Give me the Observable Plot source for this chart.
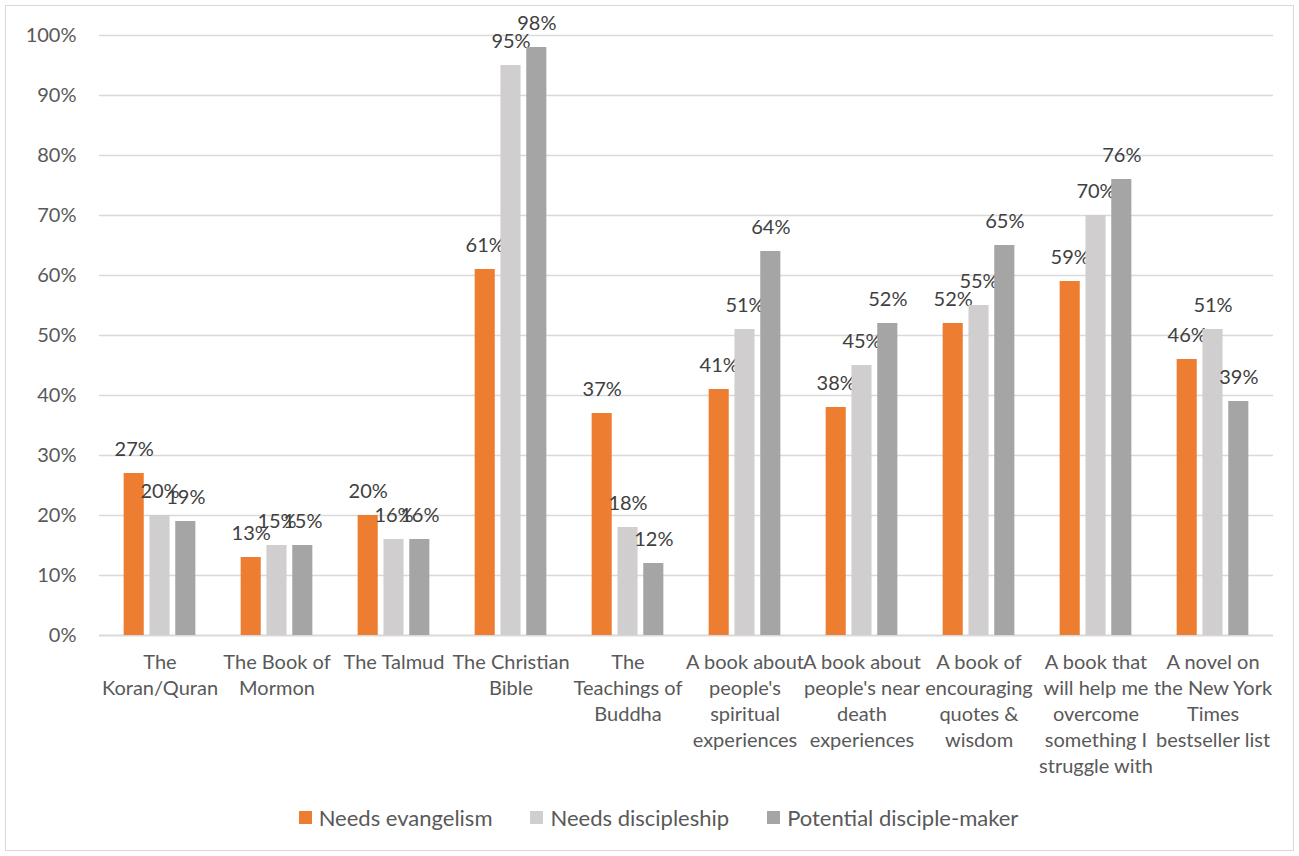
<!DOCTYPE html>
<html>
<head>
<meta charset="utf-8">
<script src="https://cdn.jsdelivr.net/npm/d3@7"></script>
<script src="https://cdn.jsdelivr.net/npm/@observablehq/plot@0.6"></script>
<style>
  html, body { margin: 0; padding: 0; background: #fff; }
  body { width: 1299px; height: 856px; position: relative; overflow: hidden; font-family: Lato, "Open Sans", sans-serif; }
  #frame { position: absolute; left: 5px; top: 5px; width: 1289px; height: 846px; border: 1.5px solid #d9d9d9; box-sizing: border-box; }
  #chart { position: absolute; left: 0; top: 0; }
  #legend { position: absolute; left: 9px; top: 804px; width: 1299px; display: flex; justify-content: center; font-size: 22px; color: #595959; }
  .item { display: flex; align-items: center; margin: 0 19px; }
  .swatch { width: 13px; height: 13px; margin-right: 7px; }
</style>
</head>
<body>
<div id="frame"></div>
<div id="chart"></div>
<div id="legend"></div>
<script>
// Reading materials and the share of each respondent group who would read them
const categories = [
  "The Koran/Quran",
  "The Book of Mormon",
  "The Talmud",
  "The Christian Bible",
  "The Teachings of Buddha",
  "A book about people's spiritual experiences",
  "A book about people's near death experiences",
  "A book of encouraging quotes & wisdom",
  "A book that will help me overcome something I struggle with",
  "A novel on the New York Times bestseller list"
];

// Category labels as they wrap beneath the axis
const categoryLabels = [
  "The\nKoran/Quran",
  "The Book of\nMormon",
  "The Talmud",
  "The Christian\nBible",
  "The\nTeachings of\nBuddha",
  "A book about\npeople's\nspiritual\nexperiences",
  "A book about\npeople's near\ndeath\nexperiences",
  "A book of\nencouraging\nquotes &\nwisdom",
  "A book that\nwill help me\novercome\nsomething I\nstruggle with",
  "A novel on\nthe New York\nTimes\nbestseller list"
];

const seriesNames = ["Needs evangelism", "Needs discipleship", "Potential disciple-maker"];
const seriesColors = ["#ED7D31", "#D0CECE", "#A5A5A5"];

const needsEvangelism     = [27, 13, 20, 61, 37, 41, 38, 52, 59, 46];
const needsDiscipleship   = [20, 15, 16, 95, 18, 51, 45, 55, 70, 51];
const potentialDiscMaker  = [19, 15, 16, 98, 12, 64, 52, 65, 76, 39];

const yTicks = [0, 10, 20, 30, 40, 50, 60, 70, 80, 90, 100];

const seriesValues = [needsEvangelism, needsDiscipleship, potentialDiscMaker];
const rows = seriesValues.map((vals, s) =>
  vals.map((v, i) => ({ category: categories[i], series: seriesNames[s], value: v }))
);

const labelOf = new Map(categories.map((c, i) => [c, categoryLabels[i]]));

// bar geometry within each category band
const bandWidth = (1273 - 99) / categories.length;
const barWidth = 20.5;
const barStep = 25.8;
const inset = (bandWidth - barWidth) / 2;

const marks = [
  Plot.ruleY(yTicks.filter(t => t > 0), { stroke: "#d9d9d9", strokeWidth: 1.5 }),
  Plot.ruleY([0], { stroke: "#d9d9d9", strokeWidth: 2 })
];

rows.forEach((data, s) => {
  const dx = (s - 1) * barStep;
  marks.push(
    Plot.barY(data, {
      x: "category", y: "value",
      fill: seriesColors[s],
      insetLeft: inset, insetRight: inset,
      dx
    }),
    Plot.text(data, {
      x: "category", y: "value",
      text: d => d.value + "%",
      dx, dy: -24,
      fill: "#404040",
      fontSize: 20,
      lineAnchor: "middle"
    })
  );
});

marks.push(
  Plot.axisY({
    ticks: yTicks,
    tickFormat: d => d + "%",
    tickSize: 0,
    tickPadding: 23,
    fontSize: 20,
    color: "#595959",
    label: null
  }),
  Plot.axisX({
    tickFormat: d => labelOf.get(d),
    tickSize: 0,
    tickPadding: 15,
    fontSize: 20,
    lineHeight: 1.3,
    color: "#595959",
    label: null
  })
);

const chart = Plot.plot({
  width: 1299,
  height: 800,
  marginLeft: 99,
  marginRight: 26,
  marginTop: 35,
  marginBottom: 165,
  style: { fontFamily: "Lato, 'Open Sans', sans-serif", background: "transparent", overflow: "visible" },
  x: { domain: categories, padding: 0 },
  y: { domain: [0, 100] },
  marks
});
document.getElementById("chart").appendChild(chart);

// legend
const legend = document.getElementById("legend");
seriesNames.forEach((name, i) => {
  const item = document.createElement("div");
  item.className = "item";
  const sw = document.createElement("span");
  sw.className = "swatch";
  sw.style.background = seriesColors[i];
  const label = document.createElement("span");
  label.textContent = name;
  item.append(sw, label);
  legend.appendChild(item);
});
</script>
</body>
</html>
